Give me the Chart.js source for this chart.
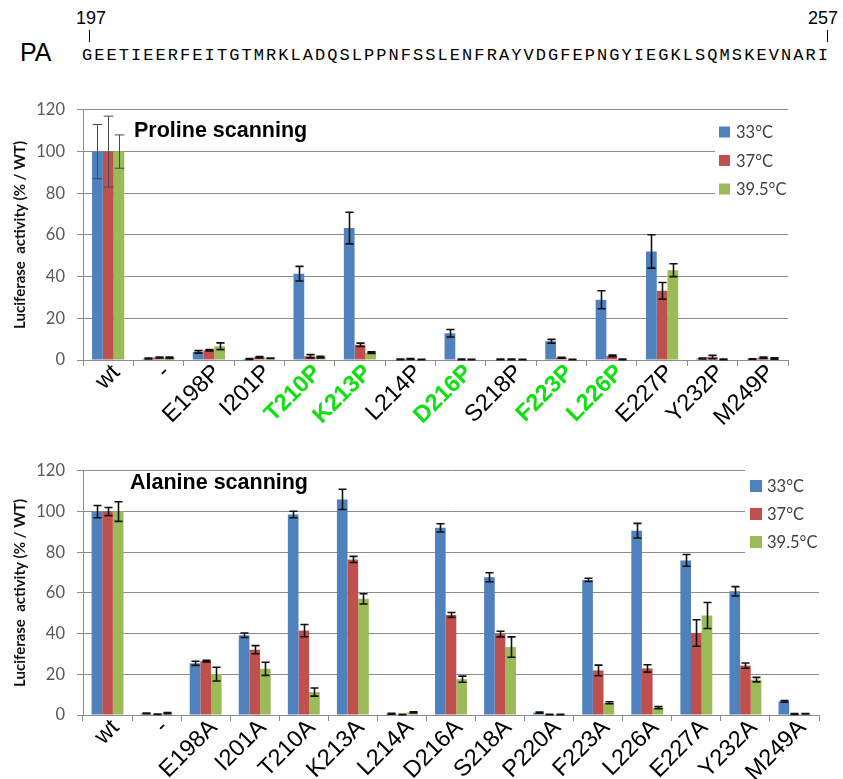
<!DOCTYPE html>
<html>
<head>
<meta charset="utf-8">
<title>PA proline and alanine scanning</title>
<script src="https://cdn.jsdelivr.net/npm/chart.js@4.4.1/dist/chart.umd.min.js"></script>
<style>
  html, body { margin: 0; padding: 0; background: #fff; }
  body { width: 843px; height: 779px; position: relative; overflow: hidden;
         font-family: "Liberation Sans", Arial, sans-serif; color: #000; }
  .abs { position: absolute; white-space: pre; line-height: 1; }
  #pa  { left: 20px; top: 40px; font-size: 25px; }
  #seq { left: 82px; top: 47px; font-family: "Liberation Mono", "Courier New", monospace;
         font-size: 17px; letter-spacing: 2.06px; }
  #n197 { left: 76px; top: 9px; font-size: 18px; }
  #n257 { left: 808px; top: 9px; font-size: 18px; }
  .mark { position: absolute; width: 1.3px; height: 12px; background: #000; top: 30px; }
  canvas { position: absolute; left: 0; }
  #proline { top: 88px; }
  #alanine { top: 449px; }
</style>
</head>
<body>
<div class="abs" id="n197">197</div>
<div class="mark" style="left:89px"></div>
<div class="abs" id="n257">257</div>
<div class="mark" style="left:827px"></div>
<div class="abs" id="pa">PA</div>
<div class="abs" id="seq">GEETIEERFEITGTMRKLADQSLPPNFSSLENFRAYVDGFEPNGYIEGKLSQMSKEVNARI</div>

<canvas id="proline" width="843" height="362"></canvas>
<canvas id="alanine" width="843" height="330"></canvas>

<script>
// ---- series temperatures ----
const TEMPS = ['33°C', '37°C', '39.5°C'];
const COLORS = ['#4F81BD', '#C0504D', '#9BBB59'];
const Y_TICKS = [0, 20, 40, 60, 80, 100, 120];

// ---- proline scanning (luciferase activity, % of WT) ----
const PRO_LABELS = ['wt', '-', 'E198P', 'I201P', 'T210P', 'K213P', 'L214P', 'D216P',
                    'S218P', 'F223P', 'L226P', 'E227P', 'Y232P', 'M249P'];
const PRO_HIGHLIGHT = ['T210P', 'K213P', 'D216P', 'F223P', 'L226P'];
const PRO_33      = [100, 0.7, 3.9, 0.5, 41.4, 63.3, 0.3, 12.8, 0.3, 9.0, 28.9, 52.1, 0.7, 0.5];
const PRO_33_ERR  = [13, 0.2, 0.6, 0.2, 3.5, 7.6, 0.1, 1.8, 0.1, 0.9, 4.3, 8.0, 0.2, 0.1];
const PRO_37      = [100, 1.2, 4.7, 1.3, 1.8, 7.3, 0.5, 0.3, 0.3, 1.1, 2.0, 33.2, 1.4, 1.1];
const PRO_37_ERR  = [17, 0.2, 0.3, 0.3, 0.8, 0.8, 0.2, 0.1, 0.1, 0.2, 0.4, 4.0, 0.8, 0.3];
const PRO_395     = [100, 1.1, 6.6, 0.8, 1.4, 3.5, 0.2, 0.2, 0.2, 0.2, 0.3, 43.1, 0.3, 0.7];
const PRO_395_ERR = [8, 0.3, 1.6, 0.1, 0.4, 0.4, 0.1, 0.1, 0.1, 0.1, 0.1, 3.1, 0.1, 0.3];

// ---- alanine scanning (luciferase activity, % of WT) ----
const ALA_LABELS = ['wt', '-', 'E198A', 'I201A', 'T210A', 'K213A', 'L214A', 'D216A',
                    'S218A', 'P220A', 'F223A', 'L226A', 'E227A', 'Y232A', 'M249A'];
const ALA_33      = [100, 0.8, 25.4, 39.2, 98.6, 106, 0.6, 92.0, 67.7, 1.2, 66.4, 90.6, 76.0, 60.8, 6.7];
const ALA_33_ERR  = [3, 0.2, 1.0, 1.1, 1.6, 5.0, 0.2, 2.0, 2.2, 0.3, 0.8, 3.6, 2.9, 2.3, 0.4];
const ALA_37      = [100, 0.4, 26.5, 32.1, 41.5, 76.5, 0.3, 49.2, 39.8, 0.3, 21.9, 22.9, 40.3, 24.3, 0.5];
const ALA_37_ERR  = [2, 0.1, 0.4, 2.0, 3.0, 1.5, 0.1, 1.2, 1.4, 0.1, 2.6, 1.8, 6.5, 1.3, 0.2];
const ALA_395     = [100, 0.9, 20.1, 22.7, 11.3, 57.1, 1.3, 17.6, 33.4, 0.3, 6.0, 3.6, 48.9, 17.4, 0.6];
const ALA_395_ERR = [4.8, 0.3, 3.4, 3.2, 2.0, 2.5, 0.3, 1.5, 5.0, 0.1, 0.5, 0.5, 6.4, 1.1, 0.1];

// Error bars (mean ± error) drawn on top of each bar
const errorBars = {
  id: 'errorBars',
  afterDatasetsDraw(chart, args, o) {
    const ctx = chart.ctx, ys = chart.scales.y;
    chart.data.datasets.forEach((ds, di) => {
      if (!ds.errors) return;
      chart.getDatasetMeta(di).data.forEach((bar, i) => {
        const v = ds.data[i], e = ds.errors[i];
        const top = ys.getPixelForValue(v + e);
        const bot = ys.getPixelForValue(Math.max(0, v - e));
        const first = i === 0 && o.firstColor;
        const half = bar.width * (first ? 0.45 : 0.38);
        const x = Math.round(bar.x) + 0.5;
        ctx.save();
        ctx.strokeStyle = first ? o.firstColor : o.color;
        ctx.lineWidth = first ? o.firstWidth : o.width;
        ctx.beginPath();
        ctx.moveTo(x, top); ctx.lineTo(x, bot);
        ctx.moveTo(x - half, top); ctx.lineTo(x + half, top);
        ctx.moveTo(x - half, bot); ctx.lineTo(x + half, bot);
        ctx.stroke();
        ctx.restore();
      });
    });
  }
};

// Legend box placed inside the plot, blanking the grid lines behind it
const insetLegend = {
  id: 'insetLegend',
  beforeDatasetsDraw(chart, args, o) {
    const ctx = chart.ctx;
    ctx.save();
    ctx.fillStyle = '#fff';
    ctx.fillRect(o.maskX, o.maskY, o.maskW, o.maskH);
    ctx.font = o.font;
    ctx.textBaseline = 'middle';
    ctx.textAlign = 'left';
    chart.data.datasets.forEach((ds, i) => {
      const cy = o.firstY + i * o.stepY;
      ctx.fillStyle = ds.backgroundColor;
      ctx.fillRect(o.boxX, cy - o.box / 2, o.box, o.box);
      ctx.fillStyle = o.color;
      ctx.fillText(ds.label, o.textX, cy + 1);
    });
    ctx.restore();
  }
};

// Panel heading written inside the plot area
const panelHeading = {
  id: 'panelHeading',
  afterDraw(chart, args, o) {
    const ctx = chart.ctx;
    ctx.save();
    ctx.font = o.font;
    ctx.fillStyle = '#000';
    ctx.textBaseline = 'alphabetic';
    ctx.fillText(o.text, o.x, o.y);
    ctx.restore();
  }
};

function buildChart(id, labels, highlight, series, errs, cfg) {
  const datasets = TEMPS.map((t, k) => ({
    label: t,
    data: series[k],
    errors: errs[k],
    backgroundColor: COLORS[k],
    borderWidth: 0,
    categoryPercentage: cfg.catPct,
    barPercentage: 1.0
  }));
  return new Chart(document.getElementById(id), {
    type: 'bar',
    data: { labels, datasets },
    plugins: [errorBars, insetLegend, panelHeading],
    options: {
      responsive: false,
      animation: false,
      devicePixelRatio: 1,
      layout: { padding: { top: cfg.padTop, right: cfg.padRight, left: 0, bottom: 0 } },
      scales: {
        x: {
          grid: { display: true, drawOnChartArea: false, drawTicks: true, tickLength: 6,
                  color: '#8c8c8c', offset: true },
          border: { display: true, color: '#8c8c8c', width: 1 },
          ticks: {
            autoSkip: false, minRotation: 45, maxRotation: 45, padding: -7, labelOffset: 8,
            font: (c) => ({ family: '"Liberation Sans", Arial, sans-serif', size: 23.5,
                            weight: highlight.includes(labels[c.index]) ? 'bold' : 'normal' }),
            color: (c) => highlight.includes(labels[c.index]) ? '#10e010' : '#000'
          },
          afterFit(s) { s.height = cfg.xHeight; }
        },
        y: {
          min: 0, max: 120,
          afterBuildTicks(s) { s.ticks = Y_TICKS.map(v => ({ value: v })); },
          ticks: { font: { family: 'Lato', size: 16.5 }, color: '#595959', padding: 12 },
          grid: { color: '#8c8c8c', tickLength: 6 },
          border: { color: '#8c8c8c' },
          title: { display: true, text: 'Luciferase  activity (% / WT)', color: '#111',
                   font: { family: 'Lato', size: 15, weight: 'bold' },
                   padding: { top: 11, bottom: 0 } },
          afterFit(s) { s.width = 83; }
        }
      },
      plugins: {
        legend: { display: false },
        tooltip: { enabled: false },
        errorBars: { color: '#111', width: 1.6, firstColor: cfg.firstErrColor, firstWidth: 1 },
        insetLegend: cfg.legend,
        panelHeading: cfg.heading
      }
    }
  });
}

buildChart('proline', PRO_LABELS, PRO_HIGHLIGHT,
  [PRO_33, PRO_37, PRO_395], [PRO_33_ERR, PRO_37_ERR, PRO_395_ERR],
  {
    catPct: 0.64, padTop: 18, padRight: 55, xHeight: 90, firstErrColor: '#4a4a4a',
    legend: { maskX: 715, maskY: 24, maskW: 128, maskH: 103, boxX: 719, firstY: 44, stepY: 28.5,
              box: 11, textX: 736, font: '16.5px Lato', color: '#404040' },
    heading: { text: 'Proline scanning', x: 134, y: 49, font: 'bold 21.5px "Liberation Sans", Arial' }
  });

buildChart('alanine', ALA_LABELS, [],
  [ALA_33, ALA_37, ALA_395], [ALA_33_ERR, ALA_37_ERR, ALA_395_ERR],
  {
    catPct: 0.65, padTop: 10, padRight: 24, xHeight: 64, firstErrColor: null,
    legend: { maskX: 745, maskY: 21, maskW: 98, maskH: 95, boxX: 750, firstY: 37, stepY: 28,
              box: 12, textX: 767, font: '16.5px Lato', color: '#404040' },
    heading: { text: 'Alanine scanning', x: 130, y: 40, font: 'bold 21.5px "Liberation Sans", Arial' }
  });
</script>
</body>
</html>
